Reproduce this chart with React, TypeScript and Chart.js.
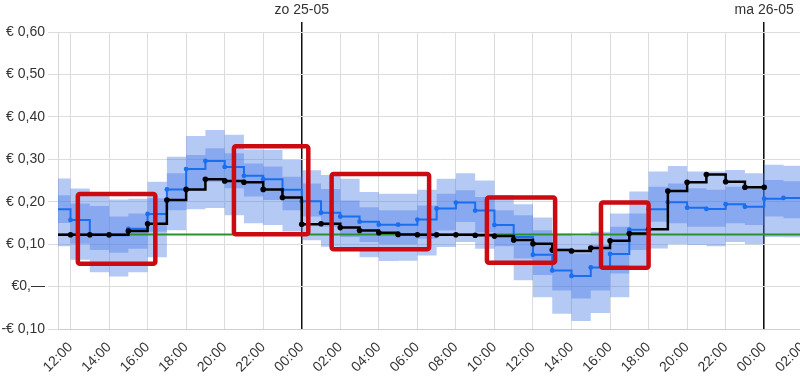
import React, { useEffect, useRef } from "react";
import { Chart, registerables } from "chart.js";

Chart.register(...registerables);

// Hours counted from Saturday 24-05 00:00 (24 = zo 25-05 00:00, 48 = ma 26-05 00:00)
const HOURS = [11, 12, 13, 14, 15, 16, 17, 18, 19, 20, 21, 22, 23, 24, 25, 26, 27, 28, 29, 30, 31, 32, 33, 34, 35, 36, 37, 38, 39, 40, 41, 42, 43, 44, 45, 46, 47, 48, 49, 50];

const ACTUAL = [0.122, 0.122, 0.122, 0.122, 0.131, 0.148, 0.204, 0.229, 0.253, 0.249, 0.246, 0.229, 0.21, 0.147, 0.148, 0.139, 0.132, 0.127, 0.123, 0.122, 0.122, 0.122, 0.121, 0.119, 0.11, 0.101, 0.086, 0.084, 0.091, 0.108, 0.125, 0.135, 0.225, 0.246, 0.264, 0.247, 0.234, 0.234];

const FORECAST = [0.182, 0.157, 0.122, 0.121, 0.136, 0.171, 0.229, 0.277, 0.296, 0.282, 0.261, 0.253, 0.228, 0.201, 0.174, 0.165, 0.153, 0.146, 0.146, 0.158, 0.184, 0.198, 0.179, 0.145, 0.117, 0.075, 0.038, 0.025, 0.045, 0.077, 0.134, 0.182, 0.199, 0.186, 0.183, 0.194, 0.188, 0.207, 0.209, 0.209];

const OUTER_HI = [0.255, 0.231, 0.215, 0.205, 0.207, 0.247, 0.306, 0.355, 0.369, 0.358, 0.323, 0.322, 0.299, 0.274, 0.263, 0.254, 0.223, 0.219, 0.219, 0.228, 0.254, 0.267, 0.25, 0.216, 0.194, 0.163, 0.125, 0.12, 0.129, 0.172, 0.224, 0.271, 0.284, 0.271, 0.271, 0.275, 0.267, 0.287, 0.285, 0.285];
const INNER_HI = [0.215, 0.196, 0.19, 0.165, 0.172, 0.208, 0.267, 0.31, 0.326, 0.314, 0.29, 0.283, 0.259, 0.243, 0.23, 0.203, 0.187, 0.18, 0.18, 0.191, 0.219, 0.227, 0.211, 0.18, 0.168, 0.133, 0.09, 0.078, 0.098, 0.141, 0.172, 0.235, 0.243, 0.232, 0.228, 0.235, 0.232, 0.251, 0.248, 0.248];
const INNER_LO = [0.15, 0.101, 0.086, 0.08, 0.089, 0.129, 0.18, 0.225, 0.247, 0.232, 0.212, 0.204, 0.18, 0.165, 0.141, 0.117, 0.105, 0.1, 0.1, 0.113, 0.132, 0.152, 0.128, 0.095, 0.066, 0.027, -0.009, -0.028, -0.009, 0.031, 0.086, 0.153, 0.149, 0.141, 0.141, 0.149, 0.145, 0.165, 0.161, 0.161];
const OUTER_LO = [0.095, 0.063, 0.034, 0.024, 0.034, 0.069, 0.133, 0.182, 0.185, 0.168, 0.149, 0.145, 0.13, 0.109, 0.094, 0.085, 0.069, 0.06, 0.061, 0.073, 0.093, 0.105, 0.089, 0.058, 0.015, -0.025, -0.064, -0.081, -0.062, -0.025, 0.05, 0.09, 0.1, 0.098, 0.095, 0.105, 0.1, 0.117, 0.116, 0.116];

const REFERENCE_PRICE = 0.123;

const X_TICK_HOURS = [12, 14, 16, 18, 20, 22, 24, 26, 28, 30, 32, 34, 36, 38, 40, 42, 44, 46, 48, 50];
const X_TICK_LABELS = ["12:00", "14:00", "16:00", "18:00", "20:00", "22:00", "00:00", "02:00", "04:00", "06:00", "08:00", "10:00", "12:00", "14:00", "16:00", "18:00", "20:00", "22:00", "00:00", "02:00"];
const DAY_HOURS = [24, 48];
const DAY_LABELS = ["zo 25-05", "ma 26-05"];
const Y_TICK_VALUES = [-0.1, 0, 0.1, 0.2, 0.3, 0.4, 0.5, 0.6];
const Y_TICK_LABELS = ["-€ 0,10", "€0,—", "€ 0,10", "€ 0,20", "€ 0,30", "€ 0,40", "€ 0,50", "€ 0,60"];

// highlighted ranges (hours / price)
const HL_START = [12.38, 20.48, 25.55, 33.61, 39.53];
const HL_END = [16.4, 24.34, 30.61, 37.15, 42.0];
const HL_TOP = [0.218, 0.331, 0.2655, 0.21, 0.198];
const HL_BOTTOM = [0.054, 0.1236, 0.088, 0.0563, 0.0444];

const X_MIN = 11.35;
const X_MAX = 51;

const FONT = "'Liberation Sans', Arial, Helvetica, sans-serif";
const BAND = "rgba(70,120,230,0.4)";

const pts = (vals: number[]) => vals.map((v, i) => ({ x: HOURS[i], y: v }));

const highlightPlugin = {
  id: "highlights",
  afterDatasetsDraw(chart: any) {
    const { ctx, scales } = chart;
    const xs = scales.x;
    const ys = scales.y;
    ctx.save();
    ctx.strokeStyle = "#cc0a12";
    ctx.lineWidth = 4.5;
    ctx.lineJoin = "round";
    for (let i = 0; i < HL_START.length; i++) {
      const x0 = xs.getPixelForValue(HL_START[i]);
      const x1 = xs.getPixelForValue(HL_END[i]);
      const y0 = ys.getPixelForValue(HL_TOP[i]);
      const y1 = ys.getPixelForValue(HL_BOTTOM[i]);
      ctx.beginPath();
      if (ctx.roundRect) ctx.roundRect(x0, y0, x1 - x0, y1 - y0, 2);
      else ctx.rect(x0, y0, x1 - x0, y1 - y0);
      ctx.stroke();
    }
    ctx.restore();
  },
};

export default function App() {
  const ref = useRef<HTMLCanvasElement | null>(null);

  useEffect(() => {
    if (!ref.current) return;
    const bandDs = (vals: number[], fill: any) => ({
      data: pts(vals),
      stepped: true,
      borderWidth: 0,
      pointRadius: 0,
      backgroundColor: BAND,
      borderColor: "rgba(0,0,0,0)",
      fill,
    });
    const chart = new Chart(ref.current, {
      type: "line",
      data: {
        datasets: [
          {
            data: pts(ACTUAL),
            stepped: true,
            borderColor: "#000",
            backgroundColor: "#000",
            borderWidth: 2.5,
            pointRadius: 2.8,
            pointBorderWidth: 0,
            fill: false,
          },
          {
            data: pts(FORECAST),
            stepped: true,
            borderColor: "#1a6ff0",
            backgroundColor: "#1a6ff0",
            borderWidth: 2,
            pointRadius: 2.4,
            pointBorderWidth: 0,
            fill: false,
          },
          {
            data: [
              { x: HOURS[0], y: REFERENCE_PRICE },
              { x: X_MAX, y: REFERENCE_PRICE },
            ],
            borderColor: "#2a922a",
            borderWidth: 2,
            pointRadius: 0,
            fill: false,
          },
          bandDs(INNER_HI, "+1"),
          bandDs(INNER_LO, false),
          bandDs(OUTER_HI, "+1"),
          bandDs(OUTER_LO, false),
        ],
      },
      options: {
        animation: false,
        responsive: false,
        devicePixelRatio: 1,
        layout: { padding: { left: 0, right: 8, top: 0, bottom: 0 } },
        plugins: {
          legend: { display: false },
          tooltip: { enabled: false },
        },
        scales: {
          x: {
            type: "linear",
            position: "bottom",
            min: X_MIN,
            max: X_MAX,
            afterBuildTicks: (s: any) => {
              s.ticks = X_TICK_HOURS.map((v) => ({ value: v }));
            },
            afterFit: (s: any) => {
              s.height = 48;
              s.paddingLeft = 0;
              s.paddingRight = 0;
            },
            grid: { color: "#dcdcdc", drawTicks: false },
            border: { color: "#cfcfcf" },
            ticks: {
              autoSkip: false,
              minRotation: 45,
              maxRotation: 45,
              padding: 10,
              color: "#333",
              font: { family: FONT, size: 14 },
              callback: (v: any) => {
                const i = X_TICK_HOURS.indexOf(Math.round(Number(v)));
                return i >= 0 ? X_TICK_LABELS[i] : "";
              },
            },
          },
          x2: {
            type: "linear",
            position: "top",
            min: X_MIN,
            max: X_MAX,
            afterBuildTicks: (s: any) => {
              s.ticks = DAY_HOURS.map((v) => ({ value: v }));
            },
            afterFit: (s: any) => {
              s.height = 32;
              s.paddingLeft = 0;
              s.paddingRight = 0;
            },
            grid: { color: "#111", lineWidth: 1.5, tickLength: 10, drawOnChartArea: true },
            border: { display: false },
            ticks: {
              autoSkip: false,
              maxRotation: 0,
              padding: 3,
              color: "#333",
              font: { family: FONT, size: 14 },
              callback: (v: any) => {
                const i = DAY_HOURS.indexOf(Math.round(Number(v)));
                return i >= 0 ? DAY_LABELS[i] : "";
              },
            },
          },
          y: {
            min: -0.1,
            max: 0.6,
            afterBuildTicks: (s: any) => {
              s.ticks = Y_TICK_VALUES.map((v) => ({ value: v }));
            },
            afterFit: (s: any) => {
              s.width = 58;
            },
            grid: { color: "#dcdcdc", tickLength: 10 },
            border: { color: "#d6d6d6" },
            ticks: {
              padding: 3,
              color: "#333",
              font: { family: FONT, size: 14 },
              callback: (v: any) => {
                const i = Y_TICK_VALUES.findIndex((t) => Math.abs(t - Number(v)) < 1e-6);
                return i >= 0 ? Y_TICK_LABELS[i] : "";
              },
            },
          },
        },
      },
      plugins: [highlightPlugin],
    } as any);
    return () => chart.destroy();
  }, []);

  return (
    <div
      style={{
        position: "fixed",
        left: 0,
        top: 0,
        width: 800,
        height: 377,
        overflow: "hidden",
        background: "#fff",
      }}
    >
      <canvas ref={ref} width={830} height={377} style={{ display: "block" }} />
    </div>
  );
}
